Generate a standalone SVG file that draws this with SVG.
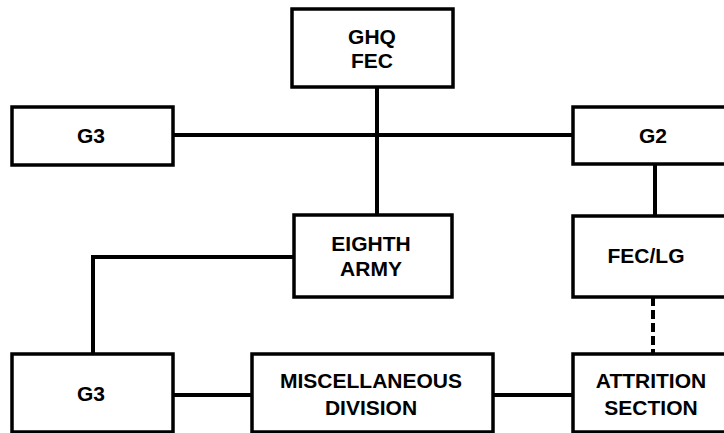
<svg xmlns="http://www.w3.org/2000/svg" width="724" height="433" viewBox="0 0 724 433">
  <style>
    .box { fill: #ffffff; stroke: #000000; stroke-width: 3.5; }
    .link { fill: none; stroke: #000000; stroke-width: 4; }
    .dash { stroke-dasharray: 9 4; }
    .lbl { font-family: "Liberation Sans", Arial, sans-serif; font-weight: bold; font-size: 21px; text-anchor: middle; fill: #000000; }
  </style>
  <rect width="724" height="433" fill="#ffffff"/>

  <!-- connectors -->
  <g id="connectors">
    <line class="link" x1="377" y1="87" x2="377" y2="215"/>
    <line class="link" x1="173" y1="135" x2="573" y2="135"/>
    <line class="link" x1="655" y1="164" x2="655" y2="216"/>
    <polyline class="link" points="293,257 93,257 93,354"/>
    <line class="link" x1="173" y1="395" x2="252" y2="395"/>
    <line class="link" x1="493" y1="395" x2="573" y2="395"/>
    <line class="link dash" x1="653" y1="297" x2="653" y2="353"/>
  </g>

  <g id="ghq-fec">
    <rect class="box" x="292" y="9" width="161" height="78"/>
    <text class="lbl" x="372" y="44">GHQ</text>
    <text class="lbl" x="372" y="68">FEC</text>
  </g>

  <g id="g3-top">
    <rect class="box" x="12" y="107" width="161" height="58"/>
    <text class="lbl" x="91" y="143">G3</text>
  </g>

  <g id="g2">
    <rect class="box" x="573" y="107" width="165" height="57"/>
    <text class="lbl" x="653" y="143">G2</text>
  </g>

  <g id="eighth-army">
    <rect class="box" x="294" y="215" width="158" height="82"/>
    <text class="lbl" x="371" y="251">EIGHTH</text>
    <text class="lbl" x="371" y="276">ARMY</text>
  </g>

  <g id="fec-lg">
    <rect class="box" x="573" y="216" width="165" height="81"/>
    <text class="lbl" x="646" y="263">FEC/LG</text>
  </g>

  <g id="g3-bottom">
    <rect class="box" x="12" y="354" width="161" height="78"/>
    <text class="lbl" x="91" y="401">G3</text>
  </g>

  <g id="misc-division">
    <rect class="box" x="252" y="354" width="241" height="78"/>
    <text class="lbl" x="371" y="388">MISCELLANEOUS</text>
    <text class="lbl" x="371" y="415">DIVISION</text>
  </g>

  <g id="attrition-section">
    <rect class="box" x="573" y="354" width="165" height="78"/>
    <text class="lbl" x="651" y="388">ATTRITION</text>
    <text class="lbl" x="651" y="415">SECTION</text>
  </g>
</svg>
